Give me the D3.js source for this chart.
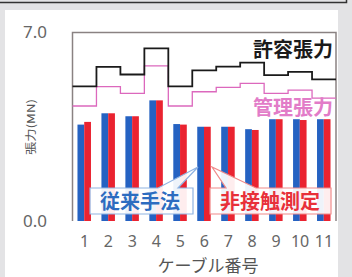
<!DOCTYPE html>
<html>
<head>
<meta charset="utf-8">
<script src="https://cdn.jsdelivr.net/npm/d3@7"></script>
<style>
  html, body { margin: 0; padding: 0; background: #e3e3e5; }
  svg { display: block; }
  text { font-family: "Noto Sans CJK JP", "Noto Sans", sans-serif; }
</style>
</head>
<body>
<svg id="chart" width="352" height="277"></svg>
<script>
//data (MN)
var cables = ["1", "2", "3", "4", "5", "6", "7", "8", "9", "10", "11"];
var conventional = [3.58, 4.00, 3.89, 4.48, 3.60, 3.50, 3.50, 3.41, 3.78, 3.78, 3.78];
var nonContact = [3.68, 4.00, 3.89, 4.48, 3.58, 3.50, 3.50, 3.38, 3.78, 3.75, 3.78];
var allowable = [5.00, 5.72, 5.44, 6.41, 5.00, 5.59, 5.73, 5.88, 5.42, 5.54, 5.26];
var managed = [4.27, 4.99, 4.74, 5.76, 4.27, 4.80, 4.96, 5.11, 4.74, 4.86, 4.56];
var yTicks = [0, 7];
var seriesNames = ["従来手法", "非接触測定"];

var svg = d3.select("#chart");

//page frame
svg.append("rect")
    .attr("x", 5).attr("y", 10)
    .attr("width", 333).attr("height", 267)
    .attr("fill", "#ffffff");
svg.append("path")
    .attr("d", "M0,2.5H346.5V0")
    .attr("fill", "none")
    .attr("stroke", "#333")
    .attr("stroke-width", 1.5);

//scales
var x = d3.scaleBand()
    .domain(cables)
    .range([72.5, 336]);
var sub = d3.scaleBand()
    .domain(seriesNames)
    .range([0, 13.5]);
var y = d3.scaleLinear()
    .domain([0, 7])
    .range([221, 32.5]);

//plot frame
svg.append("path")
    .attr("d", "M" + x.range()[0] + "," + y(0) + "V" + y(7) + "H" + x.range()[1] + "V" + y(0))
    .attr("fill", "none")
    .attr("stroke", "#8a8282")
    .attr("stroke-width", 1.5);

//bars
var colors = ["#2562c2", "#ea2330"];
var rows = cables.map(function(c, i) {
    return {cable: c, values: [conventional[i], nonContact[i]]};
});
var groups = svg.append("g")
    .selectAll("g.pair").data(rows)
    .enter().append("g")
    .attr("class", "pair")
    .attr("transform", function(d) {
        return "translate(" + (x(d.cable) + x.bandwidth() / 2 - 7) + ",0)";
    });
groups.selectAll("rect")
    .data(function(d) { return d.values; })
    .enter().append("rect")
    .attr("x", function(d, i) { return sub(seriesNames[i]); })
    .attr("width", sub.bandwidth())
    .attr("y", function(d) { return y(d); })
    .attr("height", function(d) { return y(0) - y(d); })
    .attr("fill", function(d, i) { return colors[i]; });

//step lines
function stepPoints(vals) {
    var pts = cables.map(function(c, i) { return [x(c), y(vals[i])]; });
    pts.push([x.range()[1], y(vals[vals.length - 1])]);
    return pts;
}
var step = d3.line().curve(d3.curveStepAfter);
svg.append("path")
    .attr("d", step(stepPoints(managed)))
    .attr("fill", "none")
    .attr("stroke", "#dc68bd")
    .attr("stroke-width", 1.3);
svg.append("path")
    .attr("d", step(stepPoints(allowable)))
    .attr("fill", "none")
    .attr("stroke", "#1a1a1a")
    .attr("stroke-width", 1.8);

//line labels
svg.append("text")
    .attr("x", 333).attr("y", 57)
    .attr("text-anchor", "end")
    .attr("font-size", "20px")
    .attr("font-weight", "bold")
    .attr("fill", "#1a1a1a")
    .text("許容張力");
svg.append("text")
    .attr("x", 333).attr("y", 115)
    .attr("text-anchor", "end")
    .attr("font-size", "20px")
    .attr("font-weight", "bold")
    .attr("fill", "#e27cc8")
    .text("管理張力");

//callout boxes
svg.append("path")
    .attr("d", "M90,188H158L198,167L178,188H193V214H90Z")
    .attr("fill", "#ffffff")
    .attr("fill-opacity", 0.92)
    .attr("stroke", "#8fb3e2")
    .attr("stroke-width", 1.2);
svg.append("path")
    .attr("d", "M210,188H226L212,167L256,188H331V214H210Z")
    .attr("fill", "#ffffff")
    .attr("fill-opacity", 0.92)
    .attr("stroke", "#f08a8a")
    .attr("stroke-width", 1.2);
svg.append("text")
    .attr("x", 140).attr("y", 209)
    .attr("text-anchor", "middle")
    .attr("font-size", "20px")
    .attr("font-weight", "bold")
    .attr("fill", "#2d6cc0")
    .text(seriesNames[0]);
svg.append("text")
    .attr("x", 270).attr("y", 209)
    .attr("text-anchor", "middle")
    .attr("font-size", "20px")
    .attr("font-weight", "bold")
    .attr("fill", "#e8303a")
    .text(seriesNames[1]);

//axes
var yAxis = svg.append("g")
    .attr("transform", "translate(47,0)")
    .call(d3.axisLeft(y).tickValues(yTicks).tickSize(0).tickPadding(0)
        .tickFormat(d3.format(".1f")));
yAxis.select(".domain").remove();
yAxis.selectAll("text")
    .attr("font-size", "17px")
    .attr("fill", "#666")
    .style("font-family", "'Noto Sans', sans-serif");

var xAxis = svg.append("g")
    .attr("transform", "translate(0,236)")
    .call(d3.axisBottom(x).tickSize(0).tickPadding(0));
xAxis.select(".domain").remove();
xAxis.selectAll("text")
    .attr("font-size", "16px")
    .attr("fill", "#666")
    .style("font-family", "'Noto Sans', sans-serif");

svg.append("text")
    .attr("x", 208).attr("y", 272)
    .attr("text-anchor", "middle")
    .attr("font-size", "17px")
    .attr("fill", "#555")
    .text("ケーブル番号");

svg.append("text")
    .attr("transform", "translate(35,127) rotate(-90)")
    .attr("text-anchor", "middle")
    .attr("font-size", "11px")
    .attr("textLength", 56)
    .attr("lengthAdjust", "spacingAndGlyphs")
    .attr("fill", "#555")
    .text("張力(MN)");
</script>
</body>
</html>
